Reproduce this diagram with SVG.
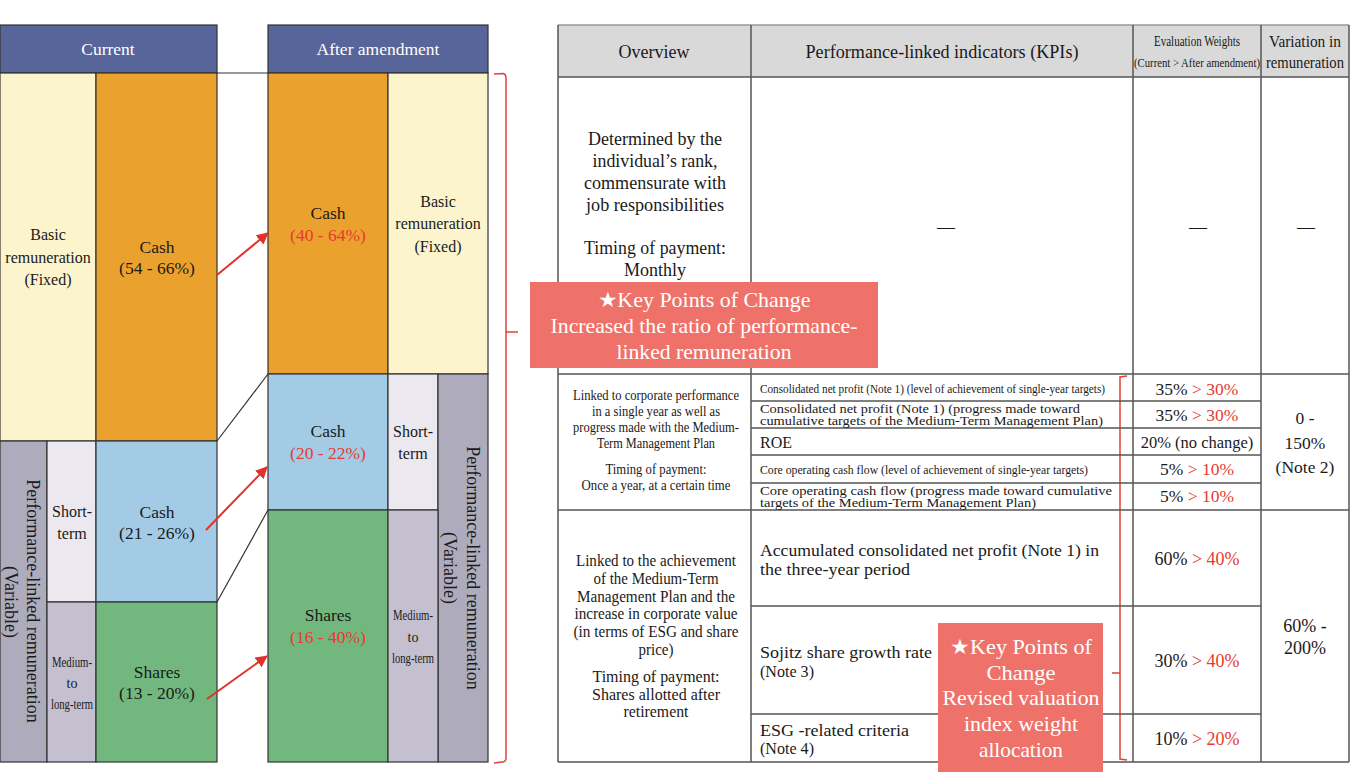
<svg xmlns="http://www.w3.org/2000/svg" width="1350" height="774" viewBox="0 0 1350 774">
<style>
.t{font-family:"Liberation Serif","Times New Roman",serif;fill:#1a1a1a}
.c{text-anchor:middle}
.w{fill:#fff}
.r{fill:#E53B30}
.b{stroke:#333;stroke-width:1.2}
.tl{stroke:#555;stroke-width:1.5;fill:none}
.hdr{fill:#58659A}
.cream{fill:#FCF4CD}
.orange{fill:#EBA12D}
.blue{fill:#A3CBE6}
.green{fill:#72B87E}
.lav{fill:#ECE8EF}
.mid{fill:#C4C0CF}
.dark{fill:#ADABBC}
.box{fill:#EE726A}
.brace{stroke:#E0433A;stroke-width:1.5;fill:none}
</style>
<defs>
<marker id="ah" viewBox="0 0 12 12" refX="11" refY="6" markerWidth="12" markerHeight="12" markerUnits="userSpaceOnUse" orient="auto">
<path d="M0,0 L12,6 L0,12 z" fill="#E3302A"/>
</marker>
</defs>
<rect width="1350" height="774" fill="#fff"/>

<!-- Current column -->
<g id="current-header">
<rect x="0" y="25" width="217" height="48" class="hdr b"/>
<text x="108" y="55" class="t c w" font-size="17.5">Current</text>
</g>
<g id="current-basic">
<rect x="0" y="73" width="96" height="368" class="cream b"/>
<text class="t c" font-size="16"><tspan x="48" y="240">Basic</tspan><tspan x="48" y="263">remuneration</tspan><tspan x="48" y="285">(Fixed)</tspan></text>
</g>
<g id="current-cash">
<rect x="96" y="73" width="121" height="368" class="orange b"/>
<text class="t c" font-size="17.5"><tspan x="157" y="253">Cash</tspan><tspan x="157" y="274">(54 - 66%)</tspan></text>
</g>
<g id="current-variable">
<rect x="0" y="441" width="47" height="321" class="dark b"/>
<text transform="translate(33,601) rotate(90)" class="t c" font-size="18" dominant-baseline="central">Performance-linked remuneration</text>
<text transform="translate(11,602) rotate(90)" class="t c" font-size="18" dominant-baseline="central">(Variable)</text>
</g>
<g id="current-short">
<rect x="47" y="441" width="49" height="161" class="lav b"/>
<text class="t c" font-size="16"><tspan x="72" y="517">Short-</tspan><tspan x="72" y="539">term</tspan></text>
</g>
<g id="current-medium">
<rect x="47" y="602" width="49" height="160" class="mid b"/>
<text x="72" y="667" class="t c" font-size="14" textLength="40" lengthAdjust="spacingAndGlyphs">Medium-</text>
<text x="72" y="688" class="t c" font-size="14">to</text>
<text x="72" y="709" class="t c" font-size="14" textLength="42" lengthAdjust="spacingAndGlyphs">long-term</text>
</g>
<g id="current-cash-short">
<rect x="96" y="441" width="121" height="161" class="blue b"/>
<text class="t c" font-size="17.5"><tspan x="157" y="518">Cash</tspan><tspan x="157" y="539">(21 - 26%)</tspan></text>
</g>
<g id="current-shares">
<rect x="96" y="602" width="121" height="160" class="green b"/>
<text class="t c" font-size="17.5"><tspan x="157" y="678">Shares</tspan><tspan x="157" y="699">(13 - 20%)</tspan></text>
</g>

<!-- After amendment column -->
<g id="after-header">
<rect x="268" y="25" width="220" height="48" class="hdr b"/>
<text x="378" y="55" class="t c w" font-size="17.5">After amendment</text>
</g>
<g id="after-cash">
<rect x="268" y="73" width="120" height="301" class="orange b"/>
<text class="t c" font-size="17.5"><tspan x="328" y="219">Cash</tspan><tspan x="328" y="241" class="r">(40 - 64%)</tspan></text>
</g>
<g id="after-basic">
<rect x="388" y="73" width="100" height="301" class="cream b"/>
<text class="t c" font-size="16"><tspan x="438" y="207">Basic</tspan><tspan x="438" y="229">remuneration</tspan><tspan x="438" y="252">(Fixed)</tspan></text>
</g>
<g id="after-cash-short">
<rect x="268" y="374" width="120" height="136" class="blue b"/>
<text class="t c" font-size="17.5"><tspan x="328" y="437">Cash</tspan><tspan x="328" y="459" class="r">(20 - 22%)</tspan></text>
</g>
<g id="after-short">
<rect x="388" y="374" width="50" height="136" class="lav b"/>
<text class="t c" font-size="16"><tspan x="413" y="437">Short-</tspan><tspan x="413" y="459">term</tspan></text>
</g>
<g id="after-variable">
<rect x="438" y="374" width="50" height="388" class="dark b"/>
<text transform="translate(473,568) rotate(90)" class="t c" font-size="18" dominant-baseline="central">Performance-linked remuneration</text>
<text transform="translate(450,568) rotate(90)" class="t c" font-size="18" dominant-baseline="central">(Variable)</text>
</g>
<g id="after-shares">
<rect x="268" y="510" width="120" height="252" class="green b"/>
<text class="t c" font-size="17.5"><tspan x="328" y="621">Shares</tspan><tspan x="328" y="643" class="r">(16 - 40%)</tspan></text>
</g>
<g id="after-medium">
<rect x="388" y="510" width="50" height="252" class="mid b"/>
<text x="413" y="620" class="t c" font-size="14" textLength="40" lengthAdjust="spacingAndGlyphs">Medium-</text>
<text x="413" y="642" class="t c" font-size="14">to</text>
<text x="413" y="663" class="t c" font-size="14" textLength="42" lengthAdjust="spacingAndGlyphs">long-term</text>
</g>

<!-- connectors -->
<g id="connectors">
<line x1="217" y1="73" x2="268" y2="73" class="b"/>
<line x1="217" y1="441" x2="268" y2="374" class="b"/>
<line x1="217" y1="602" x2="268" y2="510" class="b"/>
<line x1="217" y1="275" x2="268" y2="233" stroke="#E3302A" stroke-width="2" marker-end="url(#ah)"/>
<line x1="206" y1="530" x2="267" y2="467" stroke="#E3302A" stroke-width="2" marker-end="url(#ah)"/>
<line x1="207" y1="699" x2="267" y2="656" stroke="#E3302A" stroke-width="2" marker-end="url(#ah)"/>
<path d="M494,74 L503,73.5 Q506,74 506,78 L506,758 Q506,762 502,762 L494,763 M506,332 L518,332" class="brace"/>
<path d="M1127,376 L1120,377 L1120,759 L1127,760 M1120,673 L1112,673" class="brace"/>
</g>

<!-- Table -->
<g id="table-grid">
<rect x="558" y="25" width="791" height="52" fill="#D9D9D9"/>
<line x1="558" y1="25" x2="1349" y2="25" stroke="#999" stroke-width="1.5"/>
<line x1="558" y1="77" x2="1349" y2="77" class="tl"/>
<line x1="558" y1="374" x2="1349" y2="374" class="tl"/>
<line x1="558" y1="510" x2="1349" y2="510" class="tl" stroke="#333"/>
<line x1="558" y1="762" x2="1349" y2="762" class="tl"/>
<line x1="558" y1="25" x2="558" y2="762" class="tl" stroke="#888"/>
<line x1="751" y1="25" x2="751" y2="762" class="tl" stroke="#333"/>
<line x1="1133" y1="25" x2="1133" y2="762" class="tl"/>
<line x1="1261" y1="25" x2="1261" y2="762" class="tl"/>
<line x1="1349" y1="25" x2="1349" y2="762" class="tl"/>
<line x1="751" y1="401" x2="1261" y2="401" class="tl"/>
<line x1="751" y1="428" x2="1261" y2="428" class="tl"/>
<line x1="751" y1="455" x2="1261" y2="455" class="tl"/>
<line x1="751" y1="483" x2="1261" y2="483" class="tl"/>
<line x1="751" y1="606" x2="1261" y2="606" class="tl"/>
<line x1="751" y1="714" x2="1261" y2="714" class="tl"/>
</g>
<g id="table-header">
<text x="654" y="58" class="t c" font-size="18">Overview</text>
<text x="942" y="58" class="t c" font-size="18" textLength="273" lengthAdjust="spacingAndGlyphs">Performance-linked indicators (KPIs)</text>
<text x="1197" y="46" class="t c" font-size="14" textLength="86" lengthAdjust="spacingAndGlyphs">Evaluation Weights</text>
<text x="1197" y="67" class="t c" font-size="11.5" textLength="126" lengthAdjust="spacingAndGlyphs">(Current &gt; After amendment)</text>
<text x="1305" y="47" class="t c" font-size="16" textLength="72" lengthAdjust="spacingAndGlyphs">Variation in</text>
<text x="1305" y="68" class="t c" font-size="16" textLength="78" lengthAdjust="spacingAndGlyphs">remuneration</text>
</g>
<g id="row-basic">
<text x="655" y="145" class="t c" font-size="18" textLength="134" lengthAdjust="spacingAndGlyphs">Determined by the</text>
<text x="655" y="167" class="t c" font-size="18" textLength="125" lengthAdjust="spacingAndGlyphs">individual’s rank,</text>
<text x="655" y="189" class="t c" font-size="18" textLength="142" lengthAdjust="spacingAndGlyphs">commensurate with</text>
<text x="655" y="211" class="t c" font-size="18" textLength="138" lengthAdjust="spacingAndGlyphs">job responsibilities</text>
<text x="655" y="254" class="t c" font-size="18" textLength="142" lengthAdjust="spacingAndGlyphs">Timing of payment:</text>
<text x="655" y="276" class="t c" font-size="18">Monthly</text>
<text x="946" y="233" class="t c" font-size="18">—</text>
<text x="1198" y="233" class="t c" font-size="18">—</text>
<text x="1306" y="233" class="t c" font-size="18">—</text>
</g>
<g id="row-short">
<text x="656" y="400" class="t c" font-size="14.5" textLength="166" lengthAdjust="spacingAndGlyphs">Linked to corporate performance</text>
<text x="656" y="416" class="t c" font-size="14.5" textLength="128" lengthAdjust="spacingAndGlyphs">in a single year as well as</text>
<text x="656" y="432" class="t c" font-size="14.5" textLength="166" lengthAdjust="spacingAndGlyphs">progress made with the Medium-</text>
<text x="656" y="448" class="t c" font-size="14.5" textLength="118" lengthAdjust="spacingAndGlyphs">Term Management Plan</text>
<text x="656" y="474" class="t c" font-size="14.5" textLength="101" lengthAdjust="spacingAndGlyphs">Timing of payment:</text>
<text x="656" y="490" class="t c" font-size="14.5" textLength="149" lengthAdjust="spacingAndGlyphs">Once a year, at a certain time</text>
<text x="760" y="393" class="t" font-size="13" textLength="345" lengthAdjust="spacingAndGlyphs">Consolidated net profit (Note 1) (level of achievement of single-year targets)</text>
<text x="760" y="413" class="t" font-size="12.5" textLength="320" lengthAdjust="spacingAndGlyphs">Consolidated net profit (Note 1) (progress made toward</text>
<text x="760" y="425" class="t" font-size="12.5" textLength="343" lengthAdjust="spacingAndGlyphs">cumulative targets of the Medium-Term Management Plan)</text>
<text x="760" y="448" class="t" font-size="16">ROE</text>
<text x="760" y="474" class="t" font-size="13" textLength="328" lengthAdjust="spacingAndGlyphs">Core operating cash flow (level of achievement of single-year targets)</text>
<text x="760" y="495" class="t" font-size="12.5" textLength="352" lengthAdjust="spacingAndGlyphs">Core operating cash flow  (progress made toward cumulative</text>
<text x="760" y="507" class="t" font-size="12.5" textLength="276" lengthAdjust="spacingAndGlyphs">targets of the Medium-Term Management Plan)</text>
<text x="1197" y="395" class="t c" font-size="17.5">35%<tspan class="r"> &gt; 30%</tspan></text>
<text x="1197" y="421" class="t c" font-size="17.5">35%<tspan class="r"> &gt; 30%</tspan></text>
<text x="1197" y="448" class="t c" font-size="16.5">20% (no change)</text>
<text x="1197" y="475" class="t c" font-size="17.5">5%<tspan class="r"> &gt; 10%</tspan></text>
<text x="1197" y="502" class="t c" font-size="17.5">5%<tspan class="r"> &gt; 10%</tspan></text>
<text x="1305" y="424" class="t c" font-size="17.5">0 -</text>
<text x="1305" y="449" class="t c" font-size="17.5">150%</text>
<text x="1305" y="473" class="t c" font-size="17.5">(Note 2)</text>
</g>
<g id="row-medium">
<text x="656" y="566" class="t c" font-size="16" textLength="160" lengthAdjust="spacingAndGlyphs">Linked to the achievement</text>
<text x="656" y="584" class="t c" font-size="16" textLength="125" lengthAdjust="spacingAndGlyphs">of the Medium-Term</text>
<text x="656" y="602" class="t c" font-size="16" textLength="158" lengthAdjust="spacingAndGlyphs">Management Plan and the</text>
<text x="656" y="619" class="t c" font-size="16" textLength="163" lengthAdjust="spacingAndGlyphs">increase in corporate value</text>
<text x="656" y="637" class="t c" font-size="16" textLength="165" lengthAdjust="spacingAndGlyphs">(in terms of ESG and share</text>
<text x="656" y="655" class="t c" font-size="16" textLength="35" lengthAdjust="spacingAndGlyphs">price)</text>
<text x="656" y="682" class="t c" font-size="16" textLength="127" lengthAdjust="spacingAndGlyphs">Timing of payment:</text>
<text x="656" y="700" class="t c" font-size="16" textLength="128" lengthAdjust="spacingAndGlyphs">Shares allotted after</text>
<text x="656" y="717" class="t c" font-size="16" textLength="65" lengthAdjust="spacingAndGlyphs">retirement</text>
<text x="760" y="556" class="t" font-size="17.5" textLength="339" lengthAdjust="spacingAndGlyphs">Accumulated consolidated net profit (Note 1) in</text>
<text x="760" y="575" class="t" font-size="17.5" textLength="150" lengthAdjust="spacingAndGlyphs">the three-year period</text>
<text x="760" y="658" class="t" font-size="17.5" textLength="172" lengthAdjust="spacingAndGlyphs">Sojitz share growth rate</text>
<text x="760" y="677" class="t" font-size="17.5" textLength="54" lengthAdjust="spacingAndGlyphs">(Note 3)</text>
<text x="760" y="736" class="t" font-size="17.5" textLength="149" lengthAdjust="spacingAndGlyphs">ESG -related criteria</text>
<text x="760" y="754" class="t" font-size="17.5" textLength="54" lengthAdjust="spacingAndGlyphs">(Note 4)</text>
<text x="1197" y="565" class="t c" font-size="18">60%<tspan class="r"> &gt; 40%</tspan></text>
<text x="1197" y="667" class="t c" font-size="18">30%<tspan class="r"> &gt; 40%</tspan></text>
<text x="1197" y="745" class="t c" font-size="18">10%<tspan class="r"> &gt; 20%</tspan></text>
<text x="1305" y="632" class="t c" font-size="18">60% -</text>
<text x="1305" y="654" class="t c" font-size="18">200%</text>
</g>

<!-- Callouts -->
<g id="callout-1">
<rect x="530" y="282" width="348" height="86" class="box"/>
<text x="704" y="307" class="t c w" font-size="21" textLength="213" lengthAdjust="spacingAndGlyphs">★Key Points of Change</text>
<text x="704" y="333" class="t c w" font-size="21" textLength="307" lengthAdjust="spacingAndGlyphs">Increased the ratio of performance-</text>
<text x="704" y="359" class="t c w" font-size="21" textLength="175" lengthAdjust="spacingAndGlyphs">linked remuneration</text>
</g>
<g id="callout-2">
<rect x="938" y="623" width="165" height="149" class="box"/>
<text x="1021" y="654" class="t c w" font-size="21" textLength="142" lengthAdjust="spacingAndGlyphs">★Key Points of</text>
<text x="1021" y="680" class="t c w" font-size="21" textLength="69" lengthAdjust="spacingAndGlyphs">Change</text>
<text x="1021" y="705" class="t c w" font-size="21" textLength="157" lengthAdjust="spacingAndGlyphs">Revised valuation</text>
<text x="1021" y="731" class="t c w" font-size="21" textLength="114" lengthAdjust="spacingAndGlyphs">index weight</text>
<text x="1021" y="757" class="t c w" font-size="21" textLength="84" lengthAdjust="spacingAndGlyphs">allocation</text>
</g>
</svg>
